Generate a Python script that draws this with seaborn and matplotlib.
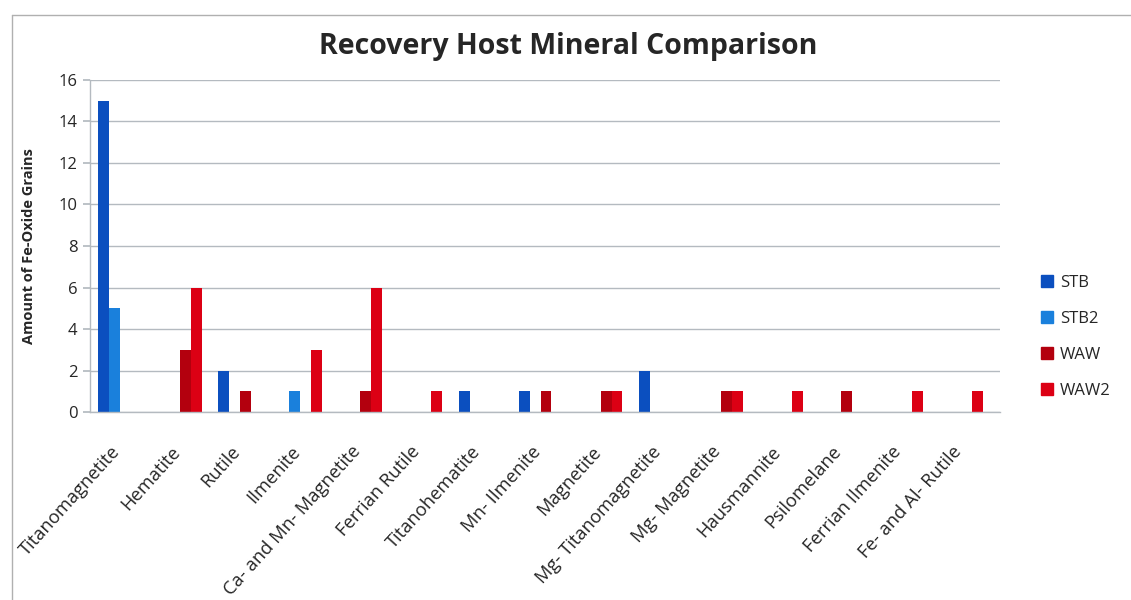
import matplotlib
matplotlib.use("Agg")
import matplotlib.pyplot as plt
import matplotlib.transforms as mtransforms
import seaborn as sns
import pandas as pd
from matplotlib.lines import Line2D

categories = ["Titanomagnetite", "Hematite", "Rutile", "Ilmenite",
              "Ca- and Mn- Magnetite", "Ferrian Rutile", "Titanohematite",
              "Mn- Ilmenite", "Magnetite", "Mg- Titanomagnetite", "Mg- Magnetite",
              "Hausmannite", "Psilomelane", "Ferrian Ilmenite", "Fe- and Al- Rutile"]
series_names = ["STB", "STB2", "WAW", "WAW2"]
stb = [15, 0, 2, 0, 0, 0, 1, 1, 0, 2, 0, 0, 0, 0, 0]
stb2 = [5, 0, 0, 1, 0, 0, 0, 0, 0, 0, 0, 0, 0, 0, 0]
waw = [0, 3, 1, 0, 1, 0, 0, 1, 1, 0, 1, 0, 1, 0, 0]
waw2 = [0, 6, 0, 3, 6, 1, 0, 0, 1, 0, 1, 1, 0, 1, 1]
colors = ["#0b4fbf", "#1a80dc", "#b3000e", "#dc0014"]

rows = []
for name, vals in zip(series_names, [stb, stb2, waw, waw2]):
    for c, v in zip(categories, vals):
        rows.append({"Mineral": c, "Series": name, "Count": v})
df = pd.DataFrame(rows)

sns.set_theme(style="white")
plt.rcParams["font.family"] = ["Open Sans", "DejaVu Sans"]

fig = plt.figure(figsize=(11.31, 6.0), dpi=100)
ax = fig.add_axes([0.0796, 0.3133, 0.8047, 0.5534])

sns.barplot(data=df, x="Mineral", y="Count", hue="Series", order=categories,
            hue_order=series_names, palette=colors, width=0.727, dodge=True,
            saturation=1, linewidth=0, ax=ax, legend=False, errorbar=None)

ax.set_ylim(0, 16)
ax.set_xlim(-0.5, len(categories) - 0.35)
ax.set_yticks(range(0, 17, 2))
ax.yaxis.grid(True, color="#b4bac0", linewidth=1.0)
ax.set_axisbelow(True)
for s in ["top", "right"]:
    ax.spines[s].set_visible(False)
for s in ["left", "bottom"]:
    ax.spines[s].set_color("#b4bac0")
    ax.spines[s].set_linewidth(1.0)
ax.tick_params(axis="y", which="major", left=True, length=5, color="#b4bac0",
               labelsize=12, pad=4)
ax.tick_params(axis="x", bottom=False, pad=10)
ax.set_xticks(range(len(categories)))
ax.set_xticklabels(categories, rotation=48, ha="right", rotation_mode="anchor",
                   fontsize=13.2)
offset = mtransforms.ScaledTranslation(-7 / 72, -6 / 72, fig.dpi_scale_trans)
for lbl in ax.get_xticklabels():
    lbl.set_transform(lbl.get_transform() + offset)
ax.set_xlabel("")
ax.set_ylabel("Amount of Fe-Oxide Grains", fontsize=10.5, fontweight="bold", labelpad=16)

fig.text(0.502, 0.922, "Recovery Host Mineral Comparison", ha="center", va="center",
         fontsize=20.5, fontweight="bold")

handles = [Line2D([0], [0], marker="s", linestyle="none", markersize=8,
                  markerfacecolor=c, markeredgecolor=c) for c in colors]
fig.legend(handles, series_names, loc="center left", bbox_to_anchor=(0.905, 0.438),
           frameon=False, fontsize=12, labelspacing=1.2, handletextpad=0.3,
           handlelength=1.0)

# chart area border (top and left visible in reference)
fig.add_artist(Line2D([0.0106, 1.0], [0.975, 0.975], transform=fig.transFigure,
                      color="#b0b0b0", linewidth=1.0))
fig.add_artist(Line2D([0.0106, 0.0106], [0.0, 0.975], transform=fig.transFigure,
                      color="#b0b0b0", linewidth=1.0))

fig.savefig("out.png", dpi=100, facecolor="white")
